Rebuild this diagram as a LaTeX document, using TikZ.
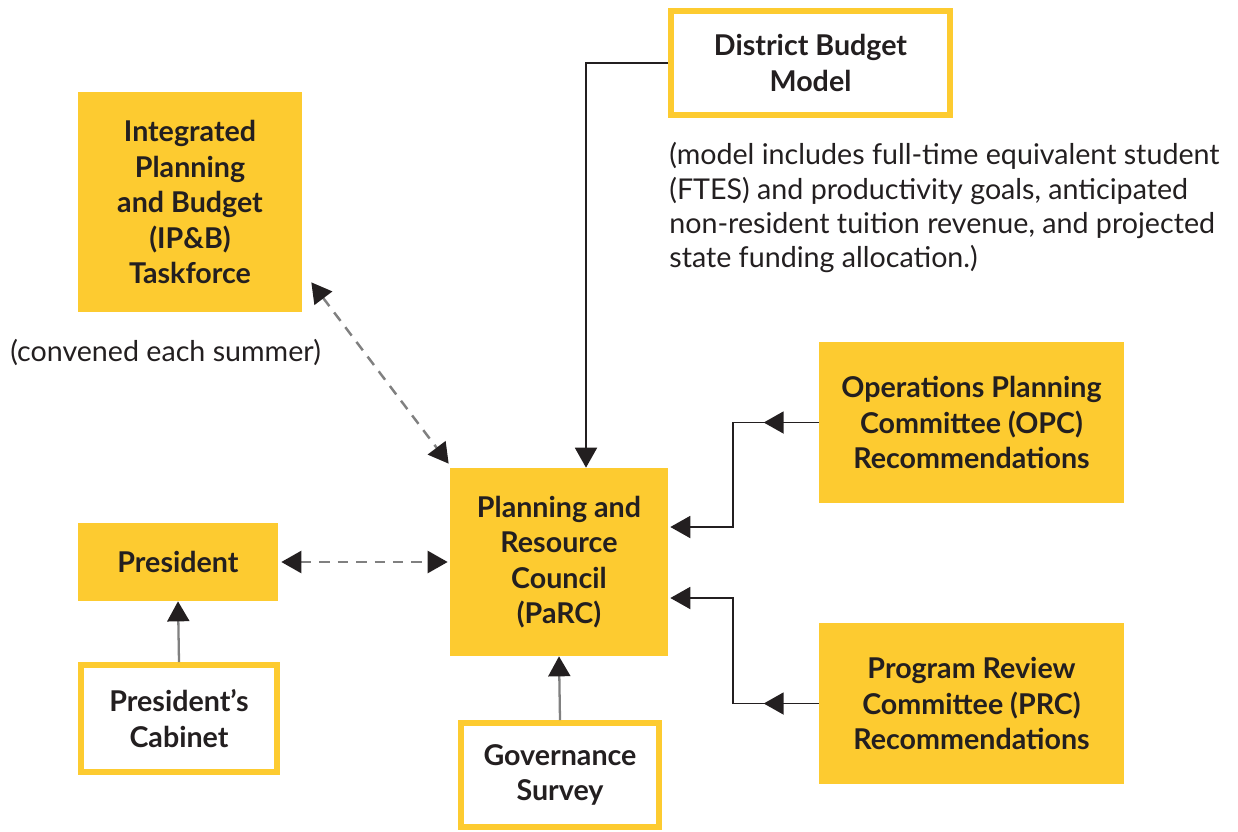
\documentclass[tikz,border=0pt]{standalone}
\usepackage{fontspec}
\setmainfont{Lato}
\usetikzlibrary{positioning}
\usetikzlibrary{arrows.meta}
\usetikzlibrary{decorations.markings}
\definecolor{parcyellow}{RGB}{253,203,48}
\definecolor{parcdark}{RGB}{35,31,32}
\definecolor{parcgrey}{RGB}{128,128,128}

\begin{document}
\begin{tikzpicture}[x=0.02cm, y=-0.02cm, font=\fontsize{16.3}{19.6}\selectfont, text=parcdark]
        \tikzstyle{fill_box} = [rectangle, fill=parcyellow, align=center, inner sep=0pt, font=\fontsize{16.3}{20.2}\selectfont\bfseries]
        \tikzstyle{line_box} = [rectangle, draw=parcyellow, line width=0.12cm, fill=white, align=center, inner sep=0pt, font=\fontsize{16.3}{20.2}\selectfont\bfseries]
        \tikzstyle{note_style} = [align=left, inner sep=0pt]
        \tikzstyle{arrow_style1} = [-{Triangle[length=0.4cm, width=0.44cm]}, draw=parcdark, line width=1.1pt]
        \tikzstyle{arrow_style2} = [-{Triangle[length=0.4cm, width=0.44cm, color=parcdark]}, draw=parcgrey, line width=1.3pt]
        \tikzstyle{arrow_style3} = [{Triangle[length=0.4cm, width=0.44cm, color=parcdark]}-{Triangle[length=0.4cm, width=0.44cm, color=parcdark]}, draw=parcgrey, line width=1.4pt, dash pattern=on 6pt off 4.5pt]
        \tikzstyle{mid_arrow} = [postaction={decorate, decoration={markings, mark=at position 1.1cm with {\arrow{Triangle[length=0.4cm, width=0.44cm]}}}}]

        \useasboundingbox (0,0) rectangle (1238,832);

        \node[fill_box, minimum width=4.48cm, minimum height=4.4cm] (ipb) at (190,202) {Integrated\\Planning\\and Budget\\(IP\&B)\\Taskforce};
        \node[line_box, minimum width=5.58cm, minimum height=2.08cm] (dbm) at (810.5,63) {District Budget\\Model};
        \node[fill_box, minimum width=6.1cm, minimum height=3.22cm] (opc) at (971.5,422.5) {Operations Planning\\Committee (OPC)\\Recommendations};
        \node[fill_box, minimum width=4.36cm, minimum height=3.76cm] (parc) at (559,562) {Planning and\\Resource\\Council\\(PaRC)};
        \node[fill_box, minimum width=4cm, minimum height=1.56cm] (pres) at (178,562) {President};
        \node[line_box, minimum width=3.92cm, minimum height=2.14cm] (cab) at (179,718.5) {President’s\\Cabinet};
        \node[line_box, minimum width=3.96cm, minimum height=2.08cm] (gov) at (560,775) {Governance\\Survey};
        \node[fill_box, minimum width=6.1cm, minimum height=3.22cm] (prc) at (971.5,703.5) {Program Review\\Committee (PRC)\\Recommendations};

        \node[note_style, anchor=north west] (model_note) at (669,142) {(model includes full-time equivalent student\\(FTES) and productivity goals, anticipated\\non-resident tuition revenue, and projected\\state funding allocation.)};
        \node[note_style, anchor=west] (summer_note) at (10,352) {(convened each summer)};

        \coordinate (dbm_bend) at (586,63);
        \draw[arrow_style1] (dbm.west) -- (dbm_bend) -- (dbm_bend |- parc.north);

        \draw[arrow_style3] ([shift={(9,-30)}]ipb.south east) -- ([shift={(-1,-4)}]parc.north west);
        \draw[arrow_style3] ([xshift=0.06cm]pres.east) -- ([xshift=-0.04cm]parc.west |- pres.east);

        \draw[arrow_style2] (cab.north) -- (pres.south);
        \draw[arrow_style2] (gov.north) -- (parc.south);

        \draw[arrow_style1, mid_arrow] (opc.west) -- ++(-86,0) |- ([shift={(2,-35)}]parc.east);
        \draw[arrow_style1, mid_arrow] (prc.west) -- ++(-86,0) |- ([shift={(2,36)}]parc.east);

    \end{tikzpicture}
\end{document}
